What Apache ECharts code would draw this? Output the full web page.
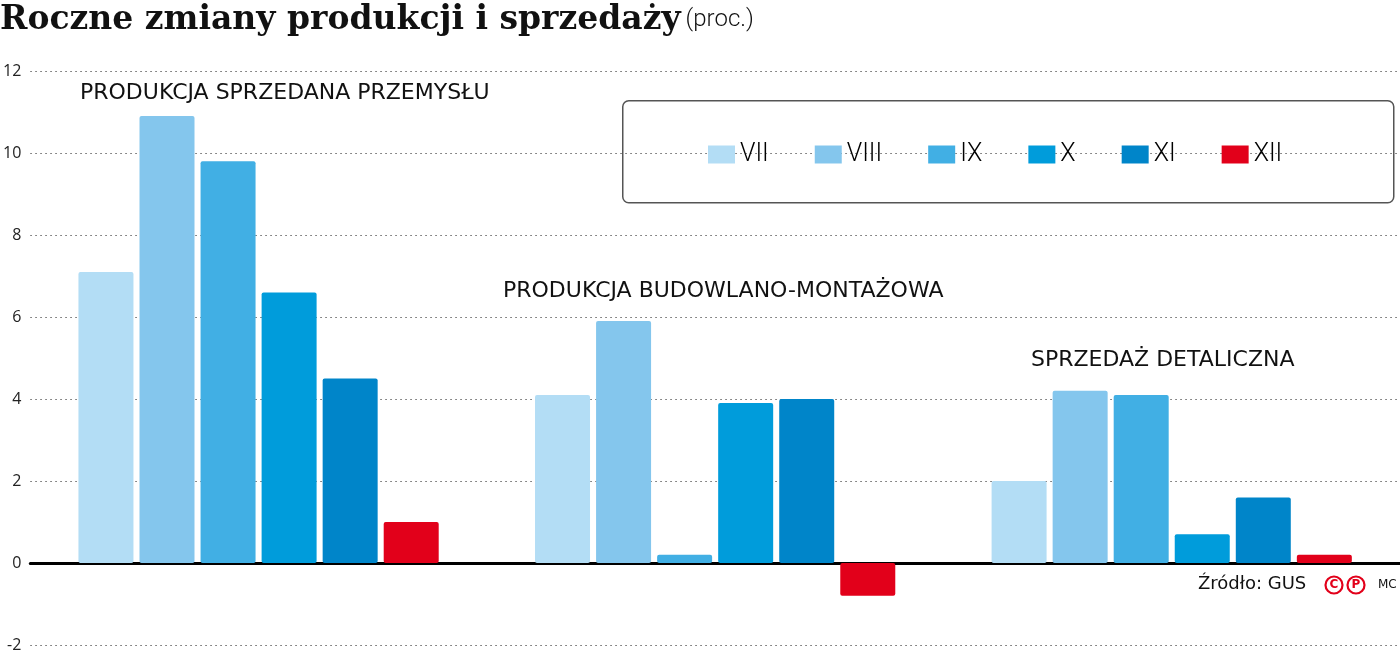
<!doctype html>
<html>
<head>
<meta charset="utf-8">
<title>Roczne zmiany produkcji i sprzedaży</title>
<script src="https://cdn.jsdelivr.net/npm/echarts@6/dist/echarts.min.js"></script>
<style>
  html, body { margin: 0; padding: 0; background: #fff; }
  #main { width: 1400px; height: 657px; }
</style>
</head>
<body>
<div id="main"></div>
<script>
// kategorie (grupy) i miesiące
var categories = ['PRODUKCJA SPRZEDANA PRZEMYSŁU', 'PRODUKCJA BUDOWLANO-MONTAŻOWA', 'SPRZEDAŻ DETALICZNA'];
var months = ['VII', 'VIII', 'IX', 'X', 'XI', 'XII'];
var colors = ['#b3ddf5', '#84c6ed', '#41afe4', '#009cdb', '#0085c9', '#e2001a'];

// wartości w proc. (r/r), po jednej tablicy na miesiąc
var valVII  = [7.1, 4.1, 2.0];
var valVIII = [10.9, 5.9, 4.2];
var valIX   = [9.8, 0.2, 4.1];
var valX    = [6.6, 3.9, 0.7];
var valXI   = [4.5, 4.0, 1.6];
var valXII  = [1.0, -0.8, 0.2];
var values = [valVII, valVIII, valIX, valX, valXI, valXII];

var yMin = -2, yMax = 12, yStep = 2;

var myChart = echarts.init(document.getElementById('main'));

var series = [];
for (var i = 0; i < months.length; i++) {
  series.push({
    name: months[i],
    type: 'bar',
    data: values[i],
    barWidth: 55,
    barGap: '11%',
    itemStyle: { color: colors[i], borderRadius: 2 },
    silent: true
  });
}

var option = {
  animation: false,
  color: colors,
  title: {
    left: 0,
    top: 0,
    padding: 0,
    text: '{a|Roczne zmiany produkcji i sprzedaży} {b|(proc.)}',
    textStyle: {
      rich: {
        a: { fontFamily: 'DejaVu Serif', fontWeight: 'bold', fontSize: 33, color: '#111', lineHeight: 40 },
        b: { fontFamily: 'Roboto', fontWeight: 300, fontSize: 24, color: '#111', lineHeight: 40 }
      }
    }
  },
  legend: {
    left: 708,
    top: 142,
    itemWidth: 27,
    itemHeight: 18,
    itemGap: 46,
    icon: 'rect',
    padding: 0,
    textStyle: { fontFamily: 'Roboto', fontWeight: 300, fontSize: 25, color: '#000' },
    data: months
  },
  grid: { left: 28, right: 0, top: 71, bottom: 12, containLabel: false },
  xAxis: {
    type: 'category',
    data: categories,
    axisLine: { onZero: true, lineStyle: { color: '#000', width: 3 } },
    axisTick: { show: false },
    axisLabel: { show: false }
  },
  yAxis: {
    type: 'value',
    min: yMin,
    max: yMax,
    interval: yStep,
    axisLine: { show: false },
    axisTick: { show: false },
    axisLabel: {
      margin: 9,
      fontFamily: 'Open Sans',
      fontSize: 16,
      color: '#222'
    },
    splitLine: { lineStyle: { color: '#666', width: 1, type: [1.5, 3.5] } }
  },
  graphic: [
    {
      type: 'rect', left: 622, top: 100, z: 0,
      shape: { width: 771, height: 102, r: 6 },
      style: { fill: '#fff', stroke: '#555', lineWidth: 1.5 }
    },
    {
      type: 'text', left: 80, top: 82,
      style: { text: categories[0], font: '22px "DejaVu Sans"', fill: '#111' }
    },
    {
      type: 'text', left: 503, top: 280,
      style: { text: categories[1], font: '22px "DejaVu Sans"', fill: '#111' }
    },
    {
      type: 'text', left: 1031, top: 349,
      style: { text: categories[2], font: '22px "DejaVu Sans"', fill: '#111' }
    },
    {
      type: 'text', left: 1198, top: 575,
      style: { text: 'Źródło: GUS', font: '18px "DejaVu Sans"', fill: '#111' }
    },
    {
      type: 'circle', shape: { cx: 1334, cy: 585, r: 8.5 },
      style: { fill: 'none', stroke: '#e2001a', lineWidth: 2.2 }
    },
    {
      type: 'text', x: 1334, y: 585,
      style: { text: 'C', font: 'bold 12px "DejaVu Sans"', fill: '#e2001a', align: 'center', verticalAlign: 'middle' }
    },
    {
      type: 'circle', shape: { cx: 1356, cy: 585, r: 8.5 },
      style: { fill: 'none', stroke: '#e2001a', lineWidth: 2.2 }
    },
    {
      type: 'text', x: 1356, y: 585,
      style: { text: 'P', font: 'bold 12px "DejaVu Sans"', fill: '#e2001a', align: 'center', verticalAlign: 'middle' }
    },
    {
      type: 'text', left: 1378, top: 579,
      style: { text: 'MC', font: '12px "DejaVu Sans"', fill: '#111' }
    }
  ],
  series: series
};

myChart.setOption(option);
</script>
</body>
</html>
